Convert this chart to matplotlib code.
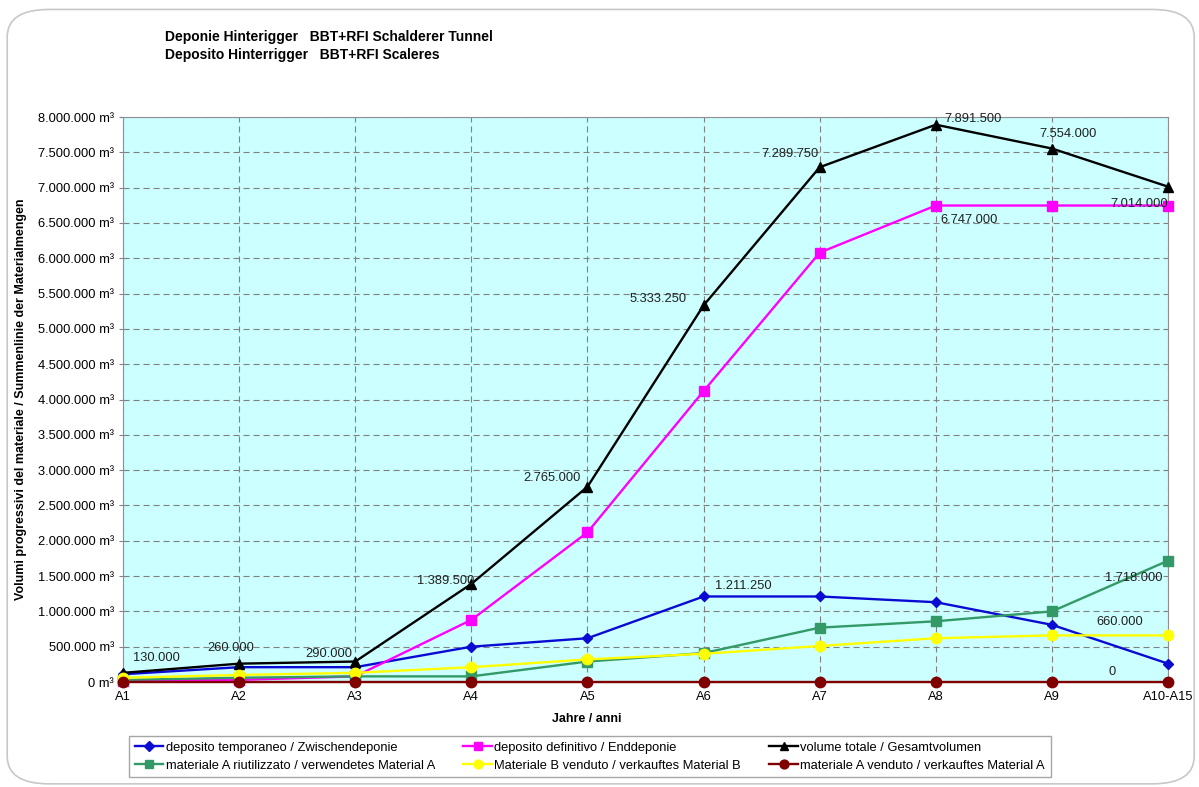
import matplotlib
matplotlib.use("Agg")
import matplotlib.pyplot as plt
from matplotlib.patches import FancyBboxPatch
from matplotlib.ticker import FuncFormatter, MultipleLocator

plt.rcParams['font.family'] = ['Liberation Sans', 'DejaVu Sans']

categories = ["A1", "A2", "A3", "A4", "A5", "A6", "A7", "A8", "A9", "A10-A15"]

temporaneo = [110000, 210000, 210000, 500000, 620000, 1211250, 1211250, 1130000, 810000, 260000]
definitivo = [20000, 30000, 80000, 880000, 2120000, 4120000, 6080000, 6747000, 6747000, 6747000]
totale = [130000, 260000, 290000, 1389500, 2765000, 5333250, 7289750, 7891500, 7554000, 7014000]
riutilizzato_A = [30000, 60000, 80000, 80000, 290000, 410000, 770000, 860000, 1000000, 1718000]
venduto_B = [60000, 100000, 130000, 210000, 320000, 400000, 510000, 620000, 660000, 660000]
venduto_A = [0, 0, 0, 0, 0, 0, 0, 0, 0, 0]

series = [
    ("deposito temporaneo / Zwischendeponie", temporaneo, "#0a0ad2", "D", 5.5),
    ("deposito definitivo / Enddeponie", definitivo, "#ff00ff", "s", 6.5),
    ("volume totale / Gesamtvolumen", totale, "#000000", "^", 6.5),
    ("materiale A riutilizzato / verwendetes Material A", riutilizzato_A, "#339966", "s", 6.5),
    ("Materiale B venduto / verkauftes Material B", venduto_B, "#ffff00", "o", 7.5),
    ("materiale A venduto / verkauftes Material A", venduto_A, "#800000", "o", 7.5),
]


def de_format(v):
    return f"{int(round(v)):,}".replace(",", ".")


fig = plt.figure(figsize=(11.99, 7.87), dpi=100)

# rounded frame around the whole chart
frame = FancyBboxPatch((0.006, 0.004), 0.99, 0.984, boxstyle="round,pad=0,rounding_size=0.035",
                       transform=fig.transFigure, facecolor="white", edgecolor="#c8c8c8",
                       linewidth=1.2, zorder=-10)
fig.patches.append(frame)

ax = fig.add_axes([0.1026, 0.1334, 0.8716, 0.7179])
ax.set_facecolor("#ccffff")

x = list(range(len(categories)))
handles = []
for name, vals, color, marker, ms in series:
    h, = ax.plot(x, vals, color=color, marker=marker, markersize=ms, linewidth=1.7,
                 label=name, zorder=3, clip_on=False)
    handles.append(h)

ax.set_xlim(0, len(categories) - 1)
ax.set_ylim(0, 8000000)
ax.set_xticks(x)
ax.set_xticklabels(categories, fontsize=9.3)
ax.yaxis.set_major_locator(MultipleLocator(500000))
ax.yaxis.set_major_formatter(FuncFormatter(lambda v, p: f"{de_format(v)} m³"))
ax.tick_params(axis='y', labelsize=9.3, length=3, color="#808080")
ax.tick_params(axis='x', length=3, color="#808080")
ax.grid(True, color="#808080", linestyle=(0, (5.5, 3.5)), linewidth=0.8)
for s in ax.spines.values():
    s.set_color("#909090")

ax.set_xlabel("Jahre / anni", fontsize=9, fontweight="bold", labelpad=8)
ax.xaxis.set_label_coords(0.444, -0.055)
ax.set_ylabel("Volumi progressivi del materiale / Summenlinie der Materialmengen",
              fontsize=9, fontweight="bold", labelpad=8)

# value labels on the total curve
tot_offsets = [(7, 6, "left"), (-6, 7, "center"), (-2, 1, "right"), (2, -2, "right"),
               (-5, 2, "right"), (-12, 0, "right"), (-1, 5, "right"), (6, 0, "left"),
               (-9, 6, "left"), (0, -17, "right")]
for i, (dx, dy, ha) in enumerate(tot_offsets):
    ax.annotate(de_format(totale[i]), (x[i], totale[i]), xytext=(dx, dy),
                textcoords="offset points", ha=ha, va="bottom", fontsize=9.3, color="#202020")

ax.annotate(de_format(definitivo[7]), (x[7], definitivo[7]), xytext=(3, -15),
            textcoords="offset points", ha="left", va="bottom", fontsize=9.3, color="#202020")
ax.annotate(de_format(temporaneo[5]), (x[5], temporaneo[5]), xytext=(8, 3),
            textcoords="offset points", ha="left", va="bottom", fontsize=9.3, color="#202020")
ax.annotate(de_format(riutilizzato_A[9]), (x[9], riutilizzato_A[9]), xytext=(-4, -17),
            textcoords="offset points", ha="right", va="bottom", fontsize=9.3, color="#202020")
ax.annotate(de_format(venduto_B[9]), (x[9], venduto_B[9]), xytext=(-18, 5),
            textcoords="offset points", ha="right", va="bottom", fontsize=9.3, color="#202020")
ax.annotate(de_format(venduto_A[9]), (x[9], venduto_A[9]), xytext=(-38, 3),
            textcoords="offset points", ha="right", va="bottom", fontsize=9.3, color="#202020")

fig.text(0.138, 0.953, "Deponie Hinterigger   BBT+RFI Schalderer Tunnel", fontsize=10,
         fontweight="bold", ha="left", va="center")
fig.text(0.138, 0.930, "Deposito Hinterrigger   BBT+RFI Scaleres", fontsize=10,
         fontweight="bold", ha="left", va="center")

# legend filled row by row
order = [0, 3, 1, 4, 2, 5]
leg = fig.legend([handles[i] for i in order], [series[i][0] for i in order],
                 loc="lower left", bbox_to_anchor=(0.102, 0.004), ncol=3, fontsize=9.3,
                 frameon=True, fancybox=False, edgecolor="#909090", handlelength=2.2,
                 handletextpad=0.2, columnspacing=2.2, borderpad=0.45, labelspacing=0.45,
                 markerscale=0.85)
leg.get_frame().set_linewidth(1.0)

fig.savefig("out.png", dpi=100)
